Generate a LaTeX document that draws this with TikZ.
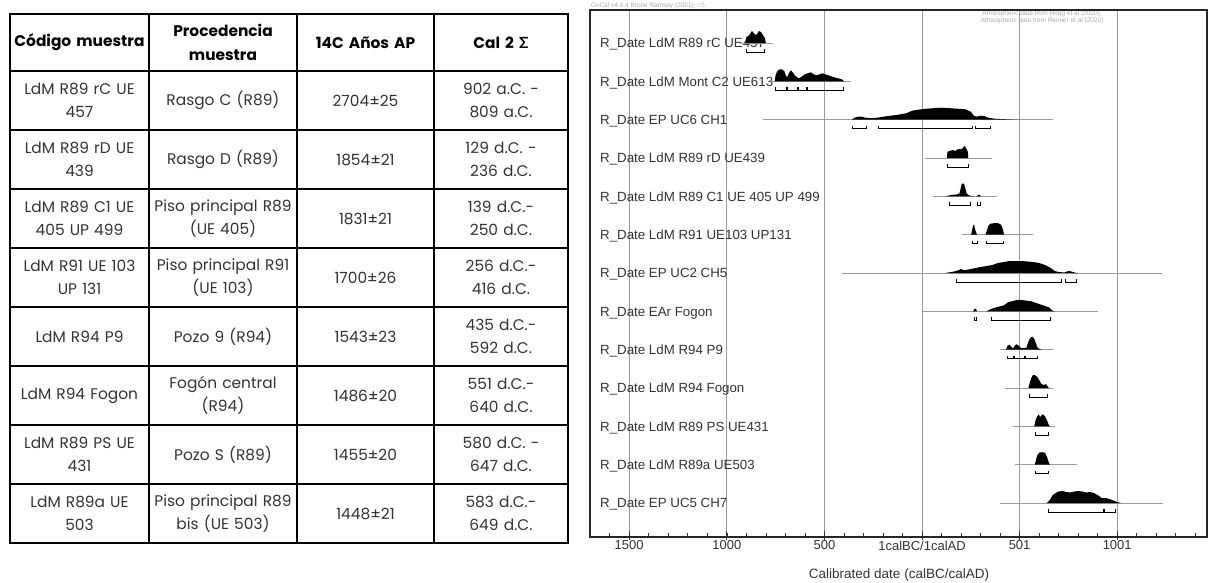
\documentclass[tikz,border=0pt]{standalone}
\usepackage{fontspec}
\setmainfont{Poppins}
\newfontfamily\plotfont{Liberation Sans}
\newfontfamily\sigmafont{Lato}
\usetikzlibrary{matrix}
\definecolor{txt}{HTML}{333333}
\definecolor{gridgray}{HTML}{9A9A9A}
\definecolor{faint}{HTML}{AAAAAA}
\tikzset{
	cell/.style     = {draw, line width=1.6pt, outer sep=0pt, anchor=center,
		inner xsep=2pt, inner ysep=0pt, align=center,
		minimum height=59pt, text=txt,
		font=\fontsize{15.4}{23}\selectfont},
	head/.style     = {cell, text=black,
		font=\fontsize{15.4}{24}\selectfont\bfseries},
	lab/.style      = {anchor=base west, inner sep=0pt, text=txt,
		font=\plotfont\fontsize{13.3}{13.3}\selectfont},
	ticklab/.style  = {anchor=north, inner sep=0pt, text=txt,
		font=\plotfont\fontsize{13}{13}\selectfont},
	rowline/.style  = {draw=gridgray, line width=0.6pt},
	gridline/.style = {draw=gridgray, line width=0.9pt},
	dist/.style     = {fill=black},
	calrange/.style = {draw=black, line width=0.8pt}
}

\begin{document}
\begin{tikzpicture}[x=1pt,y=-1pt]
	\useasboundingbox (0,0) rectangle (1210,582);
	% table of samples
	\matrix (samples)
	[
	matrix of nodes,
	anchor          = north west,
	inner sep       = 0pt,
	column sep      = -1.6pt,
	row sep         = -1.6pt,
	nodes           = {cell},
	column 1/.style = {nodes={text width=135pt}},
	column 2/.style = {nodes={text width=144pt}},
	column 3/.style = {nodes={text width=133pt}},
	column 4/.style = {nodes={text width=130pt}},
	row 1/.style    = {nodes={head, minimum height=57pt}}
	] at (9,13)
	{
	Código muestra & {Procedencia\\muestra} & 14C Años AP & Cal 2 {\sigmafont\bfseries Σ} \\
	{LdM R89 rC UE\\457} & Rasgo C (R89) & 2704±25 & {902 a.C. -\\809 a.C.} \\
	{LdM R89 rD UE\\439} & Rasgo D (R89) & 1854±21 & {129 d.C. -\\236 d.C.} \\
	{LdM R89 C1 UE\\405 UP 499} & {Piso principal R89\\(UE 405)} & 1831±21 & {139 d.C.-\\250 d.C.} \\
	{LdM R91 UE 103\\UP 131} & {Piso principal R91\\(UE 103)} & 1700±26 & {256 d.C.-\\416 d.C.} \\
	LdM R94 P9 & Pozo 9 (R94) & 1543±23 & {435 d.C.-\\592 d.C.} \\
	LdM R94 Fogon & {Fogón central\\(R94)} & 1486±20 & {551 d.C.-\\640 d.C.} \\
	{LdM R89 PS UE\\431} & Pozo S (R89) & 1455±20 & {580 d.C. -\\647 d.C.} \\
	{LdM R89a UE\\503} & {Piso principal R89\\bis (UE 503)} & 1448±21 & {583 d.C.-\\649 d.C.} \\
	};

	% OxCal plot
	\node[anchor=base west, inner sep=0pt, text=faint,
		font=\plotfont\fontsize{6.5}{6.5}\selectfont] (oxcal) at (591,7)
		{OxCal v4.4.4 Bronk Ramsey (2021); r:5};
	\node[anchor=north, inner sep=0pt, text=faint, align=center,
		font=\plotfont\fontsize{6.5}{7}\selectfont] (atmos) at (1042,11)
		{Atmospheric data from Hogg et al (2020);\\Atmospheric data from Reimer et al (2020)};
	\begin{scope}[shift={(922,0)}, x=0.1952pt]
		\foreach \yr in {-1500,-1000,-500,0,500,1000}
			\draw[gridline] (\yr,10) -- (\yr,537);
	\end{scope}
	\foreach \y/\txt [count=\i] in {
		43/R\_Date LdM R89 rC UE457,
		81.3/R\_Date LdM Mont C2 UE613,
		119.7/R\_Date EP UC6 CH1,
		158/R\_Date LdM R89 rD UE439,
		196.3/R\_Date LdM R89 C1 UE 405 UP 499,
		234.7/R\_Date LdM R91 UE103 UP131,
		273/R\_Date EP UC2 CH5,
		311.3/R\_Date EAr Fogon,
		349.7/R\_Date LdM R94 P9,
		388/R\_Date LdM R94 Fogon,
		426.3/R\_Date LdM R89 PS UE431,
		464.7/R\_Date LdM R89a UE503,
		503/R\_Date EP UC5 CH7}
		\node[lab] (rdate\i) at (600,\y+4.7) {\txt};

	\begin{scope}[shift={(922,0)}, x=0.1952pt]
		% row 1
		\begin{scope}[shift={(0,43)}, y=1pt]
			\draw[rowline] (-930,0) -- (-765,0);
			\fill[dist] (-905,0) -- (-900,6) -- (-890,7) -- (-880,9) -- (-872,12) -- (-862,10) -- (-852,8) -- (-845,9) -- (-835,12) -- (-825,11) -- (-815,8) -- (-805,5) -- (-800,0) -- cycle;
			\draw[calrange] (-902,-6) -- (-902,-9) -- (-809,-9) -- (-809,-6);
		\end{scope}
		% row 2
		\begin{scope}[shift={(0,81.3)}, y=1pt]
			\draw[rowline] (-780,0) -- (-365,0);
			\fill[dist] (-755,0) -- (-750,6) -- (-742,10) -- (-730,12) -- (-718,12) -- (-705,10) -- (-698,6) -- (-690,4) -- (-682,8) -- (-672,11) -- (-662,9) -- (-652,6) -- (-640,4) -- (-628,3) -- (-615,5) -- (-600,7) -- (-585,8) -- (-570,9) -- (-555,7) -- (-540,6) -- (-525,7) -- (-510,8) -- (-495,7) -- (-480,6) -- (-465,5) -- (-450,4) -- (-430,3) -- (-410,2) -- (-400,0) -- cycle;
			\foreach \a/\b in {-753/-695,-690/-640,-635/-590,-585/-405}
				\draw[calrange] (\a,-6) -- (\a,-9) -- (\b,-9) -- (\b,-6);
		\end{scope}
		% row 3
		\begin{scope}[shift={(0,119.7)}, y=1pt]
			\draw[rowline] (-815,0) -- (670,0);
			\fill[dist] (-360,0) -- (-345,2) -- (-330,3) -- (-310,3) -- (-290,2) -- (-260,1.5) -- (-230,2) -- (-200,3) -- (-160,4) -- (-120,5) -- (-80,6.5) -- (-50,9) -- (-20,10) -- (20,11) -- (60,11.5) -- (100,12) -- (140,11.5) -- (180,11) -- (220,10.5) -- (250,8) -- (265,4) -- (280,3) -- (300,4) -- (320,3.5) -- (340,2) -- (370,1) -- (420,0.5) -- (500,0) -- cycle;
			\foreach \a/\b in {-355/-285,-225/258,275/348}
				\draw[calrange] (\a,-6) -- (\a,-9) -- (\b,-9) -- (\b,-6);
		\end{scope}
		% row 4
		\begin{scope}[shift={(0,158)}, y=1pt]
			\draw[rowline] (15,0) -- (359,0);
			\fill[dist] (128,0) -- (130,6) -- (140,7) -- (150,7.5) -- (160,8) -- (170,7) -- (180,8.5) -- (190,9) -- (200,9) -- (210,10) -- (215,12) -- (222,11) -- (228,9) -- (235,6) -- (237,0) -- cycle;
			\draw[calrange] (129,-6) -- (129,-9) -- (236,-9) -- (236,-6);
		\end{scope}
		% row 5
		\begin{scope}[shift={(0,196.3)}, y=1pt]
			\draw[rowline] (56,0) -- (384,0);
			\fill[dist] (125,0) -- (140,1) -- (160,1.5) -- (180,2) -- (192,3) -- (198,8) -- (203,12) -- (210,13) -- (216,12) -- (222,8) -- (228,3) -- (240,1) -- (250,0.5) -- (260,0) -- cycle;
			\fill[dist] (280,0) -- (288,1.5) -- (296,1.5) -- (302,0) -- cycle;
			\foreach \a/\b in {139/250,285/298}
				\draw[calrange] (\a,-6) -- (\a,-9) -- (\b,-9) -- (\b,-6);
		\end{scope}
		% row 6
		\begin{scope}[shift={(0,234.7)}, y=1pt]
			\draw[rowline] (205,0) -- (569,0);
			\fill[dist] (252,0) -- (258,6) -- (263,10) -- (268,9) -- (274,4) -- (282,0) -- cycle;
			\fill[dist] (325,0) -- (332,4) -- (340,9) -- (350,11) -- (370,11.5) -- (390,11.5) -- (405,10) -- (415,5) -- (420,0) -- cycle;
			\foreach \a/\b in {256/285,330/416}
				\draw[calrange] (\a,-6) -- (\a,-9) -- (\b,-9) -- (\b,-6);
		\end{scope}
		% row 7
		\begin{scope}[shift={(0,273)}, y=1pt]
			\draw[rowline] (-410,0) -- (1230,0);
			\fill[dist] (120,0) -- (150,1) -- (175,2) -- (190,3) -- (200,4) -- (210,3) -- (225,3) -- (250,4) -- (275,5) -- (300,6) -- (330,7) -- (360,8) -- (390,10) -- (420,11) -- (450,12) -- (480,12) -- (510,12) -- (540,11.5) -- (570,11) -- (600,10) -- (630,8) -- (660,5) -- (680,2) -- (700,1) -- (730,0.5) -- (750,2) -- (765,1.5) -- (780,0.5) -- (800,0) -- cycle;
			\foreach \a/\b in {175/715,735/790}
				\draw[calrange] (\a,-6) -- (\a,-9) -- (\b,-9) -- (\b,-6);
		\end{scope}
		% row 8
		\begin{scope}[shift={(0,311.3)}, y=1pt]
			\draw[rowline] (5,0) -- (900,0);
			\fill[dist] (262,0) -- (268,2.5) -- (276,2.5) -- (282,0) -- cycle;
			\fill[dist] (330,0) -- (350,2) -- (380,4) -- (400,5) -- (420,6) -- (440,9) -- (460,10) -- (480,11) -- (500,11.5) -- (520,11) -- (540,10.5) -- (560,10) -- (590,8) -- (620,6) -- (650,4) -- (665,1) -- (680,0) -- cycle;
			\foreach \a/\b in {266/278,355/660}
				\draw[calrange] (\a,-6) -- (\a,-9) -- (\b,-9) -- (\b,-6);
		\end{scope}
		% row 9
		\begin{scope}[shift={(0,349.7)}, y=1pt]
			\draw[rowline] (400,0) -- (671,0);
			\fill[dist] (430,0) -- (438,4) -- (448,5) -- (458,3) -- (466,1) -- (475,4) -- (485,5.5) -- (495,4) -- (505,2) -- (520,1.5) -- (535,2) -- (545,8) -- (555,12) -- (565,13) -- (575,11) -- (585,6) -- (592,2) -- (605,0.5) -- (615,0) -- cycle;
			\foreach \a/\b in {435/468,472/525,530/592}
				\draw[calrange] (\a,-6) -- (\a,-9) -- (\b,-9) -- (\b,-6);
		\end{scope}
		% row 10
		\begin{scope}[shift={(0,388)}, y=1pt]
			\draw[rowline] (425,0) -- (671,0);
			\fill[dist] (545,0) -- (552,5) -- (560,10) -- (568,13) -- (578,13) -- (590,11) -- (600,8) -- (612,4) -- (625,3) -- (635,4) -- (642,2) -- (650,0) -- cycle;
			\draw[calrange] (551,-6) -- (551,-9) -- (640,-9) -- (640,-6);
		\end{scope}
		% row 11
		\begin{scope}[shift={(0,426.3)}, y=1pt]
			\draw[rowline] (466,0) -- (681,0);
			\fill[dist] (575,0) -- (582,6) -- (590,10) -- (598,12) -- (605,9) -- (612,11) -- (620,12) -- (630,10) -- (640,6) -- (648,2) -- (655,0) -- cycle;
			\draw[calrange] (580,-6) -- (580,-9) -- (647,-9) -- (647,-6);
		\end{scope}
		% row 12
		\begin{scope}[shift={(0,464.7)}, y=1pt]
			\draw[rowline] (476,0) -- (794,0);
			\fill[dist] (578,0) -- (585,6) -- (592,10) -- (600,12) -- (615,12.5) -- (630,12) -- (640,8) -- (648,3) -- (655,0) -- cycle;
			\draw[calrange] (583,-6) -- (583,-9) -- (649,-9) -- (649,-6);
		\end{scope}
		% row 13
		\begin{scope}[shift={(0,503)}, y=1pt]
			\draw[rowline] (400,0) -- (1235,0);
			\fill[dist] (640,0) -- (655,3) -- (670,8) -- (685,10) -- (700,11.5) -- (720,12) -- (740,11) -- (760,10.5) -- (780,11.5) -- (800,12) -- (820,11.5) -- (840,10.5) -- (860,11) -- (880,10) -- (900,8) -- (920,5) -- (940,5) -- (960,4) -- (980,2.5) -- (1000,1) -- (1020,0) -- cycle;
			\foreach \a/\b in {650/930,935/990}
				\draw[calrange] (\a,-6) -- (\a,-9) -- (\b,-9) -- (\b,-6);
		\end{scope}

		% axis ticks and labels
		\foreach \yr in {-1700,-1600,...,1400}
			\draw[draw=txt, line width=0.6pt] (\yr,537) -- (\yr,533);
		\foreach \yr in {-1500,-1000,...,1000}
			\draw[draw=txt, line width=0.9pt] (\yr,540) -- (\yr,531);
		\foreach \yr/\txt [count=\i] in {-1500/1500,-1000/1000,-500/500,0/{1calBC/1calAD},500/501,1000/1001}
			\node[ticklab] (tick\i) at (\yr,540.5) {\txt};
	\end{scope}
	\draw[draw=black!85, line width=1.4pt] (590,10) rectangle (1207,537);
	\node[anchor=base, inner sep=0pt, text=txt,
		font=\plotfont\fontsize{13.5}{13.5}\selectfont] (xtitle) at (899,578)
		{Calibrated date (calBC/calAD)};
\end{tikzpicture}
\end{document}
